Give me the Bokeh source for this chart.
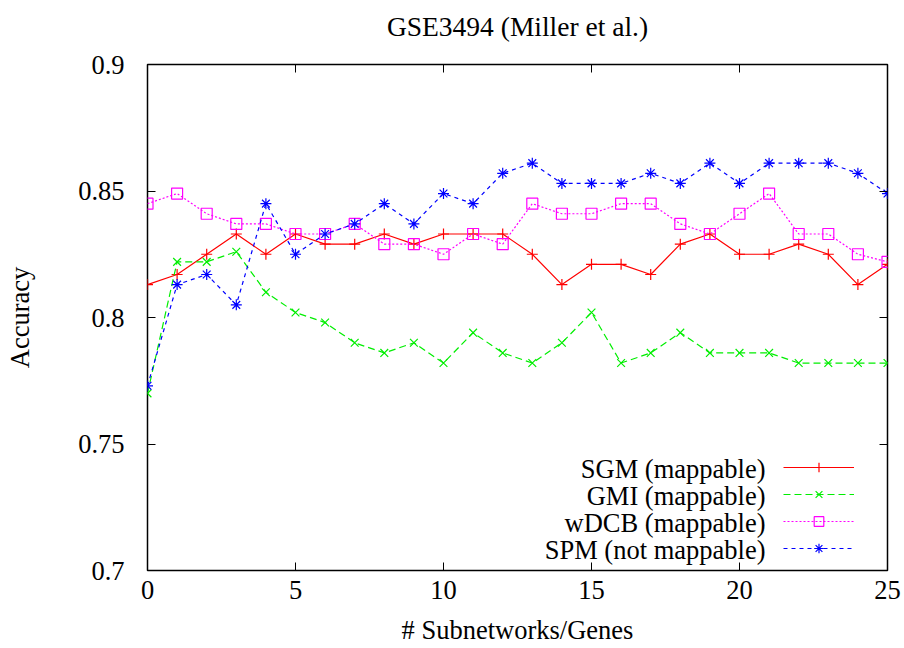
from bokeh.plotting import figure
from bokeh.models import (FixedTicker, CustomJSTickFormatter, Legend, LegendItem,
                          Label, LinearAxis, Range1d)
from bokeh.embed import file_html
from bokeh.resources import INLINE

title_text = "GSE3494 (Miller et al.)"
x_label = "# Subnetworks/Genes"
y_label = "Accuracy"

x_vals = list(range(26))
sgm = [0.813, 0.817, 0.825, 0.833, 0.825, 0.833, 0.829, 0.829, 0.833, 0.829, 0.833, 0.833, 0.833,
       0.825, 0.813, 0.821, 0.821, 0.817, 0.829, 0.833, 0.825, 0.825, 0.829, 0.825, 0.813, 0.821]
gmi = [0.770, 0.822, 0.822, 0.826, 0.810, 0.802, 0.798, 0.790, 0.786, 0.790, 0.782, 0.794, 0.786,
       0.782, 0.790, 0.802, 0.782, 0.786, 0.794, 0.786, 0.786, 0.786, 0.782, 0.782, 0.782, 0.782]
wdcb = [0.845, 0.849, 0.841, 0.837, 0.837, 0.833, 0.833, 0.837, 0.829, 0.829, 0.825, 0.833, 0.829,
        0.845, 0.841, 0.841, 0.845, 0.845, 0.837, 0.833, 0.841, 0.849, 0.833, 0.833, 0.825, 0.822]
spm = [0.773, 0.813, 0.817, 0.805, 0.845, 0.825, 0.833, 0.837, 0.845, 0.837, 0.849, 0.845, 0.857,
       0.861, 0.853, 0.853, 0.853, 0.857, 0.853, 0.861, 0.853, 0.861, 0.861, 0.861, 0.857, 0.849]
series_names = ["SGM (mappable)", "GMI (mappable)", "wDCB (mappable)", "SPM (not mappable)"]
x_ticks = [0, 5, 10, 15, 20, 25]
y_ticks = [0.7, 0.75, 0.8, 0.85, 0.9]

FONT = "Liberation Serif"
FS = "26.5px"

p = figure(width=904, height=648, output_backend="svg", toolbar_location=None,
           x_range=Range1d(0, 25), y_range=Range1d(0.7, 0.9),
           min_border_left=147, min_border_right=17, min_border_top=64, min_border_bottom=78)
p.title.text = ""

p.xgrid.visible = False
p.ygrid.visible = False
p.outline_line_color = "black"
p.outline_line_width = 1.5
p.background_fill_color = "white"
p.border_fill_color = "white"

fmt = CustomJSTickFormatter(code="return String(Number(tick.toFixed(2)));")

for ax in p.xaxis:
    ax.ticker = FixedTicker(ticks=x_ticks)
    ax.major_label_standoff = 10
    ax.axis_label = x_label
    ax.axis_label_standoff = 13
for ax in p.yaxis:
    ax.ticker = FixedTicker(ticks=y_ticks)
    ax.formatter = fmt
    ax.axis_label = y_label
    ax.axis_label_standoff = 40
    ax.major_label_standoff = 23

for ax in p.xaxis + p.yaxis:
    ax.major_tick_in = 8
    ax.major_tick_out = 0
    ax.minor_tick_line_color = None
    ax.axis_line_color = None
    ax.major_tick_line_color = "black"
    ax.major_label_text_font = FONT
    ax.major_label_text_font_size = FS
    ax.major_label_text_color = "black"
    ax.axis_label_text_font = FONT
    ax.axis_label_text_font_size = FS
    ax.axis_label_text_font_style = "normal"
    ax.axis_label_text_color = "black"

# mirrored ticks (gnuplot style), no tick labels drawn; the top one carries the chart title
rax = LinearAxis(ticker=FixedTicker(ticks=y_ticks), major_label_text_color=None,
                 major_tick_in=8, major_tick_out=0, minor_tick_line_color=None,
                 axis_line_color=None, major_label_standoff=0,
                 major_label_text_font_size="8px")
tax = LinearAxis(ticker=FixedTicker(ticks=x_ticks), major_label_text_color=None,
                 major_tick_in=8, major_tick_out=0, minor_tick_line_color=None,
                 axis_line_color=None, major_label_standoff=0,
                 major_label_text_font_size="8px",
                 axis_label=title_text, axis_label_standoff=23,
                 axis_label_text_font=FONT, axis_label_text_font_size="27.5px",
                 axis_label_text_font_style="normal", axis_label_text_color="black")
p.add_layout(rax, "right")
p.add_layout(tax, "above")

styles = [
    (sgm, "#ff0000", "solid", "cross"),
    (gmi, "#00ee00", "7 4", "x"),
    (wdcb, "#ff00ff", "2 2", "square"),
    (spm, "#0000ff", "4 4", "asterisk"),
]
items = []
for data, color, dash, marker in styles:
    ln = p.line(x_vals, data, line_color=color, line_width=1.2, line_dash=dash)
    mk = p.scatter(x_vals, data, marker=marker, size=11, line_color=color,
                   fill_color=None, line_width=1.2)
    items.append(LegendItem(label="", renderers=[ln, mk]))

legend = Legend(items=items, location=(636, 10), glyph_width=71, glyph_height=24,
                spacing=3, padding=0, margin=0, label_width=0, label_standoff=0,
                border_line_color=None, background_fill_alpha=0,
                label_text_color=None, label_text_font_size="8px")
p.add_layout(legend, "center")

row_y = [102, 75, 48, 21]
for name, yy in zip(series_names, row_y):
    p.add_layout(Label(x=618, y=yy, x_units="screen", y_units="screen", text=name,
                       text_align="right", text_baseline="middle",
                       text_font=FONT, text_font_size=FS, text_color="black"))

open("out.html", "w").write(file_html(p, INLINE))
